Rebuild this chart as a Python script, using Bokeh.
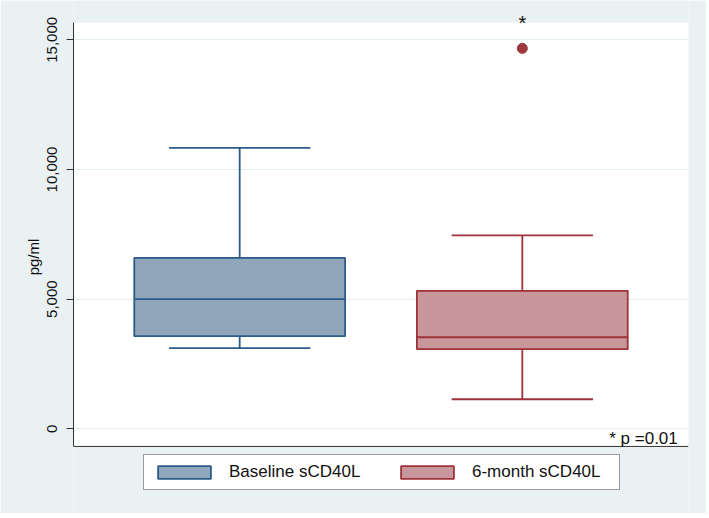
from bokeh.plotting import figure
from bokeh.models import (Range1d, FixedTicker, NumeralTickFormatter, Legend, LegendItem, Label,
                          BoxAnnotation, Span)
from bokeh.embed import file_html
from bokeh.resources import INLINE

# ---- data ----
groups = ["Baseline sCD40L", "6-month sCD40L"]
positions = [1, 2]
upper_whisker = [10830, 7460]
q3 = [6590, 5320]
median = [5000, 3530]
q1 = [3570, 3070]
lower_whisker = [3110, 1140]
outlier_pos = [2]
outlier_val = [14670]
y_ticks = [0, 5000, 10000, 15000]
p_text = "* p =0.01"

# plot-area limits (white region) and outer canvas range
plot_bottom, plot_top = -680, 15670
canvas_bottom, canvas_top = -3266, 16516
x_lo, x_hi = 0.412, 2.588

edge_colors = ["#2C5B8A", "#9E3139"]
fill_colors = ["#8FA6BB", "#C8979B"]
BG = "#EAF1F3"
FONT = "Liberation Sans"

box_w = 0.746
cap_w = 0.5

p = figure(frame_width=615, frame_height=513, output_backend="svg", toolbar_location=None,
           x_range=Range1d(x_lo, x_hi), y_range=Range1d(canvas_bottom, canvas_top),
           x_axis_location=None,
           min_border_left=73, min_border_top=0, min_border_right=18, min_border_bottom=0)
p.background_fill_color = BG
p.border_fill_color = BG
p.outline_line_color = None

# white plot area
p.add_layout(BoxAnnotation(bottom=plot_bottom, top=plot_top, fill_color="white", fill_alpha=1,
                           line_color=None, level="image"))
p.add_layout(Span(location=plot_bottom, dimension="width", line_color="#333333", line_width=1))

# grid
p.xgrid.grid_line_color = None
p.ygrid.grid_line_color = "#E3EEF0"
p.ygrid.grid_line_width = 1
p.yaxis.ticker = FixedTicker(ticks=y_ticks)
p.yaxis.bounds = (plot_bottom, plot_top)
p.yaxis.formatter = NumeralTickFormatter(format="0,0")
p.yaxis.major_label_orientation = "vertical"
p.yaxis.major_tick_out = 7
p.yaxis.major_tick_in = 0
p.yaxis.minor_tick_out = 0
p.yaxis.minor_tick_in = 0
p.yaxis.major_label_text_font = FONT
p.yaxis.major_label_text_font_size = "15px"
p.yaxis.major_label_text_color = "#111111"
p.yaxis.major_label_standoff = 9
p.yaxis.axis_label = "pg/ml"
p.yaxis.axis_label_text_font = FONT
p.yaxis.axis_label_text_font_size = "15px"
p.yaxis.axis_label_text_font_style = "normal"
p.yaxis.axis_label_text_color = "#111111"
p.yaxis.axis_label_standoff = 3
p.yaxis.axis_line_color = "#333333"
p.yaxis.major_tick_line_color = "#333333"

items = []
for i, g in enumerate(groups):
    x = positions[i]
    # whiskers
    p.segment(x0=[x, x], y0=[q3[i], q1[i]], x1=[x, x], y1=[upper_whisker[i], lower_whisker[i]],
              line_color=edge_colors[i], line_width=1.8)
    p.segment(x0=[x - cap_w / 2, x - cap_w / 2], y0=[upper_whisker[i], lower_whisker[i]],
              x1=[x + cap_w / 2, x + cap_w / 2], y1=[upper_whisker[i], lower_whisker[i]],
              line_color=edge_colors[i], line_width=1.8)
    r = p.vbar(x=[x], width=box_w, top=[q3[i]], bottom=[q1[i]],
               fill_color=fill_colors[i], line_color=edge_colors[i], line_width=1.8)
    p.segment(x0=[x - box_w / 2], y0=[median[i]], x1=[x + box_w / 2], y1=[median[i]],
              line_color=edge_colors[i], line_width=1.8)
    items.append(LegendItem(label=g, renderers=[r]))

p.scatter(x=outlier_pos, y=outlier_val, size=10, fill_color="#9E3A3E", line_color="#9E3A3E")

for xo, yo in zip(outlier_pos, outlier_val):
    p.add_layout(Label(x=xo, y=yo + 960, text="*", text_align="center", text_baseline="alphabetic",
                       text_font=FONT, text_font_size="20px", text_color="#111111"))

p.add_layout(Label(x=2.55, y=-380, text=p_text, text_align="right", text_baseline="alphabetic",
                   text_font=FONT, text_font_size="17px", text_color="#111111"))

legend = Legend(items=items, orientation="horizontal", location=(70, 23),
                glyph_width=66, glyph_height=16, label_height=16, label_width=140, label_standoff=12,
                spacing=25, padding=7, margin=0,
                label_text_font=FONT, label_text_font_size="17px", label_text_color="#111111",
                border_line_color="#333333", border_line_width=1, background_fill_color="white",
                background_fill_alpha=1)
p.add_layout(legend, "center")

open("out.html", "w").write(file_html(p, INLINE))
